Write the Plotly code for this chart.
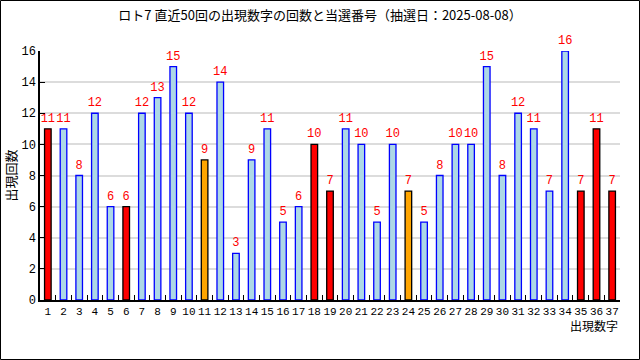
import plotly.graph_objects as go

numbers = [str(i) for i in range(1, 38)]
counts = [11, 11, 8, 12, 6, 6, 12, 13, 15, 12, 9, 14, 3, 9, 11, 5, 6, 10, 7, 11,
          10, 5, 10, 7, 5, 8, 10, 10, 15, 8, 12, 11, 7, 16, 7, 11, 7]
main_numbers = ["1", "6", "18", "19", "35", "36", "37"]
bonus_numbers = ["11", "24"]

title_text = "ロト7 直近50回の出現数字の回数と当選番号（抽選日：2025-08-08）"
y_title = "出現回数"
x_title = "出現数字"

fills, edges = [], []
for n in numbers:
    if n in main_numbers:
        fills.append("#ff0000"); edges.append("#000000")
    elif n in bonus_numbers:
        fills.append("#ffa500"); edges.append("#000000")
    else:
        fills.append("#add8e6"); edges.append("#0000ff")

num_font = "Liberation Mono, DejaVu Sans Mono, monospace"
cjk_font = "Noto Sans CJK JP, sans-serif"

fig = go.Figure(go.Bar(
    x=numbers, y=counts, width=0.42,
    marker=dict(color=fills, line=dict(color=edges, width=1.3)),
    text=[str(c) for c in counts], textposition="outside",
    constraintext="none",
    textfont=dict(color="#ff0000", size=12, family=num_font),
    cliponaxis=False,
))

L, R, T, B = 40, 20, 51, 60
W, H = 640, 360
pw, ph = W - L - R, H - T - B

fig.update_layout(
    width=W, height=H,
    margin=dict(l=L, r=R, t=T, b=B, autoexpand=False),
    paper_bgcolor="white", plot_bgcolor="white",
    showlegend=False,
    uniformtext=dict(mode=False),
    title=dict(text=title_text, x=0.5, xanchor="center", y=1 - 15 / H, yanchor="middle",
               automargin=False,
               font=dict(family=cjk_font, size=13, color="#000")),
    xaxis=dict(type="category", tickson="boundaries", ticks="inside", ticklen=5,
               tickcolor="#000", showline=True, linecolor="#000", linewidth=1.5,
               showgrid=False, range=[-0.5, 36.5], tickangle=0, automargin=False,
               tickfont=dict(family=num_font, size=11, color="#000")),
    yaxis=dict(range=[0, 16], dtick=2, ticks="inside", ticklen=5, tickcolor="#000",
               showline=True, linecolor="#000", linewidth=1.5, automargin=False,
               showgrid=True, gridcolor="#dcdcdc", gridwidth=1.5, zeroline=False,
               tickfont=dict(family=num_font, size=12, color="#000")),
    bargap=0.58,
    annotations=[
        dict(text=y_title, xref="paper", yref="paper", x=(10 - L) / pw, y=0.5,
             xanchor="center", yanchor="middle", textangle=-90, showarrow=False,
             font=dict(family=cjk_font, size=13, color="#000")),
        dict(text=x_title, xref="paper", yref="paper", x=1, y=-25 / ph,
             xanchor="right", yanchor="middle", showarrow=False,
             font=dict(family=cjk_font, size=12, color="#000")),
    ],
    shapes=[dict(type="rect", xref="paper", yref="paper",
                 x0=(0.5 - L) / pw, x1=(W - 0.5 - L) / pw,
                 y0=(T + ph - (H - 0.5)) / ph, y1=(T + ph - 0.5) / ph,
                 line=dict(color="#000", width=1), fillcolor="rgba(0,0,0,0)")],
)

fig.write_html("out.html", config={"displayModeBar": False},
               post_script="document.body.style.margin='0';document.body.style.padding='0';")
